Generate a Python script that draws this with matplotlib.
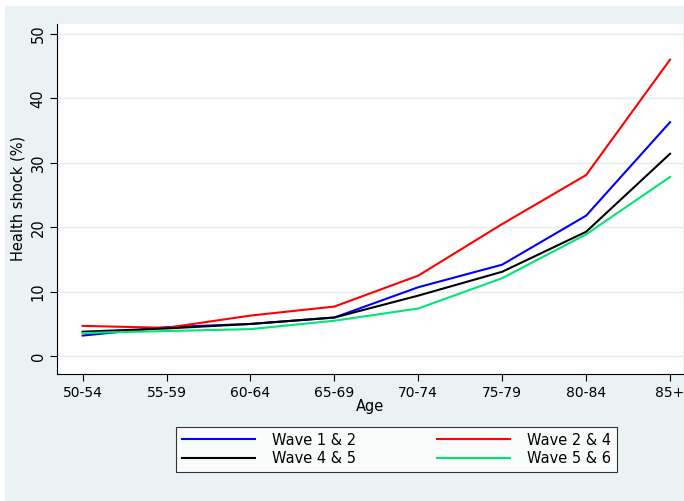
import matplotlib.pyplot as plt

ages = ['50-54', '55-59', '60-64', '65-69', '70-74', '75-79', '80-84', '85+']
wave12 = [3.2, 4.5, 5.0, 6.0, 10.7, 14.2, 21.8, 36.3]
wave24 = [4.7, 4.4, 6.3, 7.7, 12.5, 20.5, 28.1, 46.0]
wave45 = [3.8, 4.3, 5.0, 6.0, 9.4, 13.1, 19.3, 31.4]
wave56 = [3.6, 3.9, 4.2, 5.5, 7.4, 12.1, 18.9, 27.8]

bg = '#eaf2f3'
fig = plt.figure(figsize=(6.84, 5.01), dpi=100)
fig.patch.set_facecolor('white')
fig.patches.append(plt.Rectangle((0.008, 0.0), 0.992, 0.988, transform=fig.transFigure,
                                 facecolor=bg, edgecolor='none', zorder=-10))
ax = fig.add_axes([0.084, 0.253, 0.914, 0.7])
ax.set_facecolor('white')
x = range(len(ages))
l1, = ax.plot(x, wave12, color='blue', lw=1.5, label='Wave 1 & 2')
l2, = ax.plot(x, wave24, color='red', lw=1.5, label='Wave 2 & 4')
l3, = ax.plot(x, wave45, color='black', lw=1.5, label='Wave 4 & 5')
l4, = ax.plot(x, wave56, color='#00e676', lw=1.5, label='Wave 5 & 6')

ax.set_xlim(-0.3, 7.15)
ax.set_ylim(-2.8, 51.6)
ax.set_yticks([0, 10, 20, 30, 40, 50])
ax.set_xticks(list(x))
ax.set_xticklabels(ages)
ax.yaxis.grid(True, color='#e4ecee', lw=1)
ax.set_axisbelow(True)
for s in ['top', 'right']:
    ax.spines[s].set_visible(False)
for s in ['left', 'bottom']:
    ax.spines[s].set_color('black')
ax.tick_params(axis='y', labelrotation=90, labelsize=10.5, length=5)
ax.tick_params(axis='x', labelsize=10, length=5)
for t in ax.get_yticklabels():
    t.set_va('center')
ax.set_ylabel('Health shock (%)', fontsize=10.5)
ax.set_xlabel('Age', fontsize=10.5, labelpad=-1)

# column-major fill: order so rows read 1&2, 2&4 / 4&5, 5&6
handles = [l1, l3, l2, l4]
leg = fig.legend(handles, [h.get_label() for h in handles], loc='center',
                 bbox_to_anchor=(0.58, 0.103), ncol=2, frameon=True,
                 fancybox=False, edgecolor='black', fontsize=10.5, columnspacing=5.5,
                 handlelength=5.0, handletextpad=1.2, borderpad=0.4, labelspacing=0.25)
leg.get_frame().set_linewidth(0.8)

fig.savefig('out.png', dpi=100)
